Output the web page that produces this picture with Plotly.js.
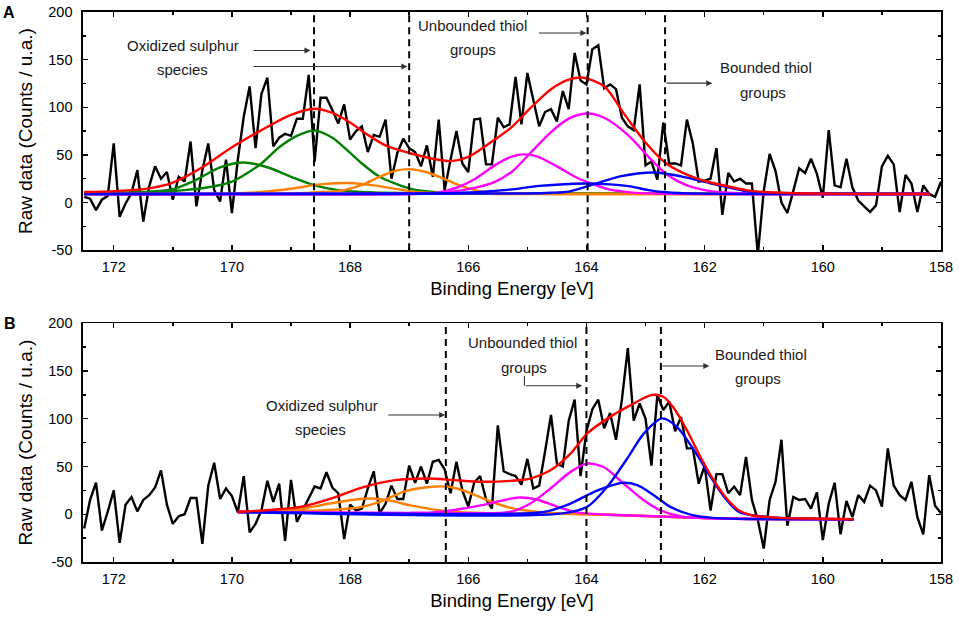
<!DOCTYPE html>
<html>
<head>
<meta charset="utf-8">
<script src="https://cdn.plot.ly/plotly-3.0.1.min.js"></script>
<style>html,body{margin:0;padding:0;background:#fff;}#chart{width:959px;height:617px;}</style>
</head>
<body>
<div id="chart"></div>
<script>
// ---------- raw data (binding energy grid 172.5 -> 158.0, step 0.1 eV) ----------
const energyA = Array.from({length:146},(_,i)=>+(172.5-0.1*i).toFixed(1));
const energyB = energyA.slice();

const rawA = [6,4,-8,3,7,62,-15,-1,10,34,
  -20,17,38,25,32,3,27,22,64,-4,
  34,62,13,1,45,-11,45,90,122,57,
  114,131,59,68,72,70,88,88,134,43,
  110,110,97,83,103,66,75,80,53,71,
  69,87,25,52,67,57,53,38,60,27,
  87,13,45,75,41,32,87,88,40,40,
  89,79,82,132,82,136,108,80,95,98,
  85,117,98,157,128,124,161,165,120,124,
  119,89,80,76,124,39,43,24,84,41,
  41,39,87,62,22,23,25,57,-13,31,
  22,25,20,20,-55,12,51,33,0,-11,
  12,36,31,46,30,5,76,18,16,46,
  16,2,-4,-10,-3,38,49,40,-10,29,
  20,-10,18,9,6,22];

const rawB = [-15,15,33,-17,3,25,-30,10,18,3,
  15,20,28,46,10,-10,-2,0,17,17,
  -31,30,54,16,27,19,2,40,-19,-10,
  4,35,13,32,-28,36,-8,4,16,29,
  27,44,28,22,-26,10,4,6,27,45,
  1,11,30,16,16,51,33,50,32,55,
  57,47,22,55,25,8,33,40,16,6,
  93,45,42,40,31,58,27,30,66,104,
  53,50,98,120,40,87,110,120,90,106,
  78,120,174,98,116,100,51,125,109,118,
  87,102,69,69,32,51,4,42,42,22,
  29,20,60,15,-6,-36,15,34,78,-12,
  18,15,16,6,23,-27,11,33,-21,14,
  -3,20,13,30,25,8,69,30,20,15,
  34,-3,-21,41,9,1];

// ---------- fitted components, panel A ----------
const redAx = [172.5,172.0,171.5,171.0,170.5,170.0,169.5,169.0,168.6,168.3,168.0,167.7,167.4,167.0,166.6,166.3,166.0,165.6,165.25,164.95,164.6,164.3,164.05,163.7,163.35,163.0,162.65,162.25,161.9,161.6,161.3,161.0,160.5,160.0,159.0,158.2];
const redAy = [11,12,14,21,37,58,76,92,98.5,94,84,71,60,52,46,43.5,48,64,80,99,119,129,131,122,92,63,41,28,21,17,13,11,9.8,9.3,9,9];

const green1Ax = [172.5,171.5,171.0,170.6,170.2,169.8,169.4,169.0,168.6,168.2,167.6,167.0,166.0,158.2];
const green1Ay = [10,11,14,24,37,42,37,27,18,13,10.5,10,9.5,9];

const green2Ax = [172.5,171.4,170.8,170.4,170.0,169.5,169.2,168.9,168.6,168.3,168.05,167.8,167.5,167.2,166.95,166.5,166.0,158.2];
const green2Ay = [9.5,10.5,13,16,22,41,58,70,75.5,68,55,41,27,19,14,10.5,9.5,9];

const orange1Ax = [172.5,170.0,169.5,169.0,168.5,168.0,167.6,167.2,166.8,166.3,165.5,158.2];
const orange1Ay = [9,9.5,11,14.5,19,20.5,18,14,10.5,9.3,9,9];

const orange2Ax = [172.5,169.0,168.6,168.1,167.8,167.5,167.22,166.97,166.66,166.38,166.1,165.77,165.4,164.5,158.2];
const orange2Ay = [9,9.5,10.7,13,18.5,27,33.5,35,31,24,17,11.5,10,9,9];

const magenta1Ax = [172.5,167.0,166.55,166.2,165.88,165.54,165.25,165.06,164.84,164.5,164.16,163.88,163.6,163.26,162.8,158.2];
const magenta1Ay = [9,9.2,10,15.5,25,39.5,48.5,50.5,48.5,38,26,19,13.5,10.7,9.3,9];

const magenta2Ax = [172.5,166.5,166.0,165.54,165.25,164.95,164.6,164.3,164.0,163.7,163.3,162.95,162.65,162.3,161.9,161.5,161.0,158.2];
const magenta2Ay = [9,10,14,22,33,52,74,88,93.5,89,71,48,30,18,12,10,9.2,9];

const blue1Ax = [172.5,166.5,165.8,165.3,164.8,164.3,164.0,163.6,163.26,162.95,162.6,162.0,158.2];
const blue1Ay = [9,9.5,11,13.5,17.5,19.5,20,19,17,13,10.5,9.3,9];

const blue2Ax = [172.5,165.0,164.6,164.3,163.88,163.43,162.85,162.4,161.92,161.6,161.3,161.0,160.5,158.2];
const blue2Ay = [9,9.5,10.2,11.5,19,27.5,31.5,27.5,20.5,16,12,10,9.2,9];

// ---------- fitted components, panel B ----------
const redBx = [169.9,169.3,168.84,168.3,167.8,167.24,166.68,166.23,165.77,165.29,164.95,164.61,164.27,163.99,163.6,163.26,162.89,162.7,162.52,162.3,162.07,161.85,161.62,161.42,161.2,160.8,160.24,159.48];
const redBy = [2.4,4.8,7.7,17,28,35.7,37.4,35.7,34,35,37.4,46,63.5,84.5,102,114,125,123,111,88,60,36,16,4.2,-1,-3.5,-4.5,-5.2];

const orange1Bx = [169.9,169.3,168.84,168.37,167.9,167.63,167.3,167.0,166.68,166.33,165.8,165.0,164.0,163.0,162.0,161.0,159.48];
const orange1By = [2.4,3.5,5.5,11,15.5,16.5,14,9.5,6,3,1.5,0.8,0,-1.8,-4,-5,-5.2];

const orange2Bx = [169.9,168.9,168.5,168.0,167.8,167.5,167.07,166.56,166.3,166.0,165.65,165.3,164.9,164.5,164.0,163.0,162.0,161.0,159.48];
const orange2By = [2.4,3.5,4,6,7.7,13,24,29,28.5,23,14,7,3,1,0,-1.8,-4,-5,-5.2];

const magenta1Bx = [169.9,167.0,166.6,166.23,165.77,165.45,165.15,164.84,164.5,164.16,163.7,163.0,162.0,161.0,159.48];
const magenta1By = [2.4,1.5,2,4.5,9.5,14,17.5,15.5,8,2,-0.3,-1.8,-4,-5,-5.2];

const magenta2Bx = [169.9,166.0,165.29,164.95,164.61,164.27,163.99,163.71,163.37,163.03,162.75,162.35,161.9,161.0,159.48];
const magenta2By = [2.4,1,2.4,11.2,27,44.4,53,49.5,32,14.7,4.2,-2.8,-4.2,-5,-5.2];

const blue1Bx = [169.9,165.29,164.72,164.27,163.93,163.65,163.39,163.14,162.86,162.58,162.24,161.9,161.3,159.48];
const blue1By = [2.4,0.5,2.4,11.2,21.7,28.7,32.9,30.4,19.9,7.7,-0.3,-3.5,-4.9,-5.2];

const blue2Bx = [169.9,164.44,163.99,163.65,163.31,163.03,162.72,162.47,162.18,161.9,161.67,161.42,161.2,160.8,159.48];
const blue2By = [2.4,0.7,7.7,28.7,58.4,84.5,100.4,91.6,67.2,39.2,18.2,2.4,-1,-3.5,-5.2];

// ---------- reference lines, ticks, labels ----------
const peakLinesA = [168.61, 167.0, 163.98, 162.67];
const peakLinesB = [166.38, 164.0, 162.74];
const xTickVals = [172,170,168,166,164,162,160,158];
const xTickText = ['172','170','168','166','164','162','160','158'];
const yTickVals = [-50,0,50,100,150,200];
const yTickText = ['-50','0','50','100','150','200'];

const C = {red:'#ff0000', green:'#008000', orange:'#ff8000', magenta:'#ff00ff', blue:'#0000ff', black:'#000000'};

function line(x,y,color,xa,ya,w){
  return {type:'scatter', mode:'lines', x:x, y:y, xaxis:xa, yaxis:ya,
    line:{color:color, width:w||2.4, shape:'spline', smoothing:0.8}, hoverinfo:'skip'};
}
function rawLine(x,y,xa,ya){
  return {type:'scatter', mode:'lines', x:x, y:y, xaxis:xa, yaxis:ya,
    line:{color:C.black, width:2.4, shape:'linear'}, hoverinfo:'skip'};
}

const traces = [
  rawLine(energyA, rawA, 'x', 'y'),
  line(green1Ax, green1Ay, C.green, 'x','y'),
  line(green2Ax, green2Ay, C.green, 'x','y'),
  line(orange1Ax, orange1Ay, C.orange, 'x','y'),
  line(orange2Ax, orange2Ay, C.orange, 'x','y'),
  line(magenta1Ax, magenta1Ay, C.magenta, 'x','y'),
  line(magenta2Ax, magenta2Ay, C.magenta, 'x','y'),
  line(blue1Ax, blue1Ay, C.blue, 'x','y'),
  line(blue2Ax, blue2Ay, C.blue, 'x','y'),
  line(redAx, redAy, C.red, 'x','y'),

  rawLine(energyB, rawB, 'x2', 'y2'),
  line(orange1Bx, orange1By, C.orange, 'x2','y2'),
  line(orange2Bx, orange2By, C.orange, 'x2','y2'),
  line(magenta1Bx, magenta1By, C.magenta, 'x2','y2'),
  line(magenta2Bx, magenta2By, C.magenta, 'x2','y2'),
  line(blue1Bx, blue1By, C.blue, 'x2','y2'),
  line(blue2Bx, blue2By, C.blue, 'x2','y2'),
  line(redBx, redBy, C.red, 'x2','y2')
];

function xAxis(anchor, domainY){
  return {anchor:anchor, range:[172.52,158], tickmode:'array', tickvals:xTickVals, ticktext:xTickText,
    ticks:'inside', ticklen:5, tickwidth:1.4, tickcolor:'#000',
    minor:{tickmode:'linear', tick0:158, dtick:1, ticks:'inside', ticklen:3, tickwidth:1.4, tickcolor:'#000', showgrid:false},
    showline:true, linewidth:1.6, linecolor:'#000', mirror:'ticks', showgrid:false, zeroline:false,
    ticklabelstandoff:3,
    tickfont:{size:14.5, color:'#000'},
    title:{text:'Binding Energy [eV]', font:{size:18.5, color:'#000'}, standoff:8}};
}
function yAxis(anchor, domain){
  return {anchor:anchor, domain:domain, range:[-50,200], tickmode:'array', tickvals:yTickVals, ticktext:yTickText,
    ticks:'inside', ticklen:5, tickwidth:1.4, tickcolor:'#000',
    minor:{tickmode:'linear', tick0:0, dtick:25, ticks:'inside', ticklen:3, tickwidth:1.4, tickcolor:'#000', showgrid:false},
    showline:true, linewidth:1.6, linecolor:'#000', mirror:'ticks', showgrid:false, zeroline:false,
    ticklabelstandoff:6,
    tickfont:{size:14.5, color:'#000'},
    title:{text:'Raw data (Counts / u.a.)', font:{size:19, color:'#000'}, standoff:10}};
}

const shapes = [];
peakLinesA.forEach(e=>shapes.push({type:'line', xref:'x', yref:'y domain', x0:e, x1:e, y0:0, y1:1,
  line:{color:'#000', width:2, dash:'7px,5px'}}));
peakLinesB.forEach(e=>shapes.push({type:'line', xref:'x2', yref:'y2 domain', x0:e, x1:e, y0:0, y1:1,
  line:{color:'#000', width:2, dash:'7px,5px'}}));
// elbow of the "Unbounded thiol groups" arrow in panel B
shapes.push({type:'line', xref:'x2', yref:'y2', x0:165.05, x1:165.05, y0:144.8, y1:134.6, line:{color:'#333', width:1.1}});

const txtFont = {size:15, color:'#1a1a1a'};
function txt(x,y,t,xr,yr){ return {x:x, y:y, xref:xr, yref:yr, text:t, showarrow:false, font:txtFont, xanchor:'center', yanchor:'middle'}; }
function arrow(x0,y0,x1,y1,xr,yr){
  return {x:x1, y:y1, ax:x0, ay:y0, xref:xr, yref:yr, axref:xr, ayref:yr, text:'', showarrow:true,
    arrowhead:2, arrowsize:1.1, arrowwidth:1.1, arrowcolor:'#333', standoff:0, startstandoff:0};
}

const annotations = [
  {x:-0.086, y:0.999, xref:'paper', yref:'paper', text:'<b>A</b>', showarrow:false, font:{size:16, color:'#000'}, xanchor:'center', yanchor:'middle'},
  {x:-0.085, y:0.434, xref:'paper', yref:'paper', text:'<b>B</b>', showarrow:false, font:{size:16, color:'#000'}, xanchor:'center', yanchor:'middle'},

  txt(170.82, 164.6, 'Oxidized sulphur', 'x','y'),
  txt(170.84, 139.3, 'species', 'x','y'),
  arrow(169.66, 159.6, 168.67, 159.6, 'x','y'),
  arrow(169.66, 142.8, 167.03, 142.8, 'x','y'),
  txt(165.93, 185.6, 'Unbounded thiol', 'x','y'),
  txt(165.92, 160.4, 'groups', 'x','y'),
  arrow(164.83, 177.9, 164.0, 177.9, 'x','y'),
  txt(160.97, 141.4, 'Bounded thiol', 'x','y'),
  txt(161.02, 115.1, 'groups', 'x','y'),
  arrow(162.67, 125.3, 161.87, 125.3, 'x','y'),

  txt(168.48, 114.4, 'Oxidized sulphur', 'x2','y2'),
  txt(168.50, 88.9, 'species', 'x2','y2'),
  arrow(167.38, 103.9, 166.39, 103.9, 'x2','y2'),
  txt(165.09, 179.7, 'Unbounded thiol', 'x2','y2'),
  txt(165.05, 153.5, 'groups', 'x2','y2'),
  arrow(165.05, 134.6, 164.07, 134.6, 'x2','y2'),
  txt(161.05, 167.6, 'Bounded thiol', 'x2','y2'),
  txt(161.09, 141.7, 'groups', 'x2','y2'),
  arrow(162.74, 155.3, 161.92, 155.3, 'x2','y2')
];

const layout = {
  width:959, height:617,
  margin:{l:83, r:18, t:12, b:55},
  paper_bgcolor:'#ffffff', plot_bgcolor:'#ffffff',
  showlegend:false,
  font:{family:'"Liberation Sans", Arial, sans-serif', color:'#000', size:14.5},
  xaxis: xAxis('y'),
  yaxis: yAxis('x', [0.567, 1]),
  xaxis2: xAxis('y2'),
  yaxis2: yAxis('x2', [0, 0.434]),
  shapes: shapes,
  annotations: annotations
};

Plotly.newPlot('chart', traces, layout, {displayModeBar:false, staticPlot:true});
</script>
</body>
</html>
